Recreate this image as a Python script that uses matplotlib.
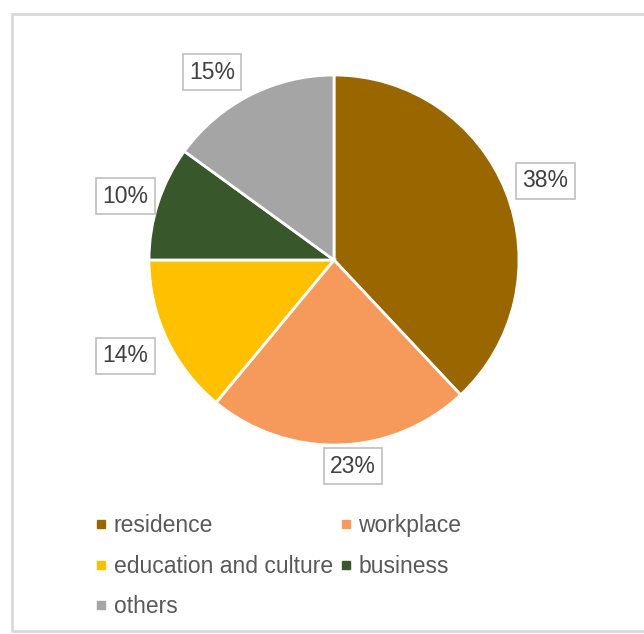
import matplotlib
matplotlib.use("Agg")
import numpy as np
import matplotlib.pyplot as plt
from matplotlib.patches import Rectangle
from matplotlib.lines import Line2D

categories = ["residence", "workplace", "education and culture", "business", "others"]
shares = [38, 23, 14, 10, 15]
colors = ["#9A6600", "#F69A5C", "#FFC000", "#38572A", "#A5A5A5"]

plt.rcParams['font.family'] = ['Liberation Sans', 'DejaVu Sans']
W, H = 644, 634
fig = plt.figure(figsize=(W / 100, H / 100), dpi=100)
ax = fig.add_axes([0, 0, 1, 1])

# outer chart frame
ax.add_patch(Rectangle((12, 3), 640, 617, facecolor='white', edgecolor='#D9D9D9', lw=2, zorder=0))

cx, cy, r = 334, H - 260, 185
wedges, texts, autotexts = ax.pie(
    shares, colors=colors, startangle=90, counterclock=False,
    center=(cx, cy), radius=r, frame=True,
    autopct=lambda p: f"{p:.0f}%", pctdistance=1.2,
    wedgeprops=dict(edgecolor='white', linewidth=2),
    textprops=dict(fontsize=16.5, color='#404040'))

# label placement (Excel "best fit"-like callouts)
dist = [1.22, 1.12, 1.24, 1.18, 1.21]
dang = [-1.0, 3.5, -0.5, 1.0, 6.0]
for w, t, d, da in zip(wedges, autotexts, dist, dang):
    mid = np.deg2rad((w.theta1 + w.theta2) / 2 + da)
    t.set_position((cx + d * r * np.cos(mid), cy + d * r * np.sin(mid)))
    t.set_bbox(dict(boxstyle='square,pad=0.28', facecolor='white', edgecolor='#BFBFBF', lw=1.2))

ax.set_xlim(0, W)
ax.set_ylim(0, H)
ax.set_aspect('equal')
ax.axis('off')

handles = [Line2D([], [], marker='s', linestyle='none', markersize=6, color=c) for c in colors]
order = [0, 2, 4, 1, 3]  # row-major fill for 2 columns
fig.legend([handles[i] for i in order], [categories[i] for i in order],
           loc='upper left', bbox_to_anchor=(84 / W, 1 - 503 / H),
           ncol=2, frameon=False, fontsize=16.5, labelcolor='#595959',
           handlelength=0.5, handletextpad=0.3, columnspacing=0.3, labelspacing=0.76,
           borderpad=0)

fig.savefig("out.png", dpi=100)
